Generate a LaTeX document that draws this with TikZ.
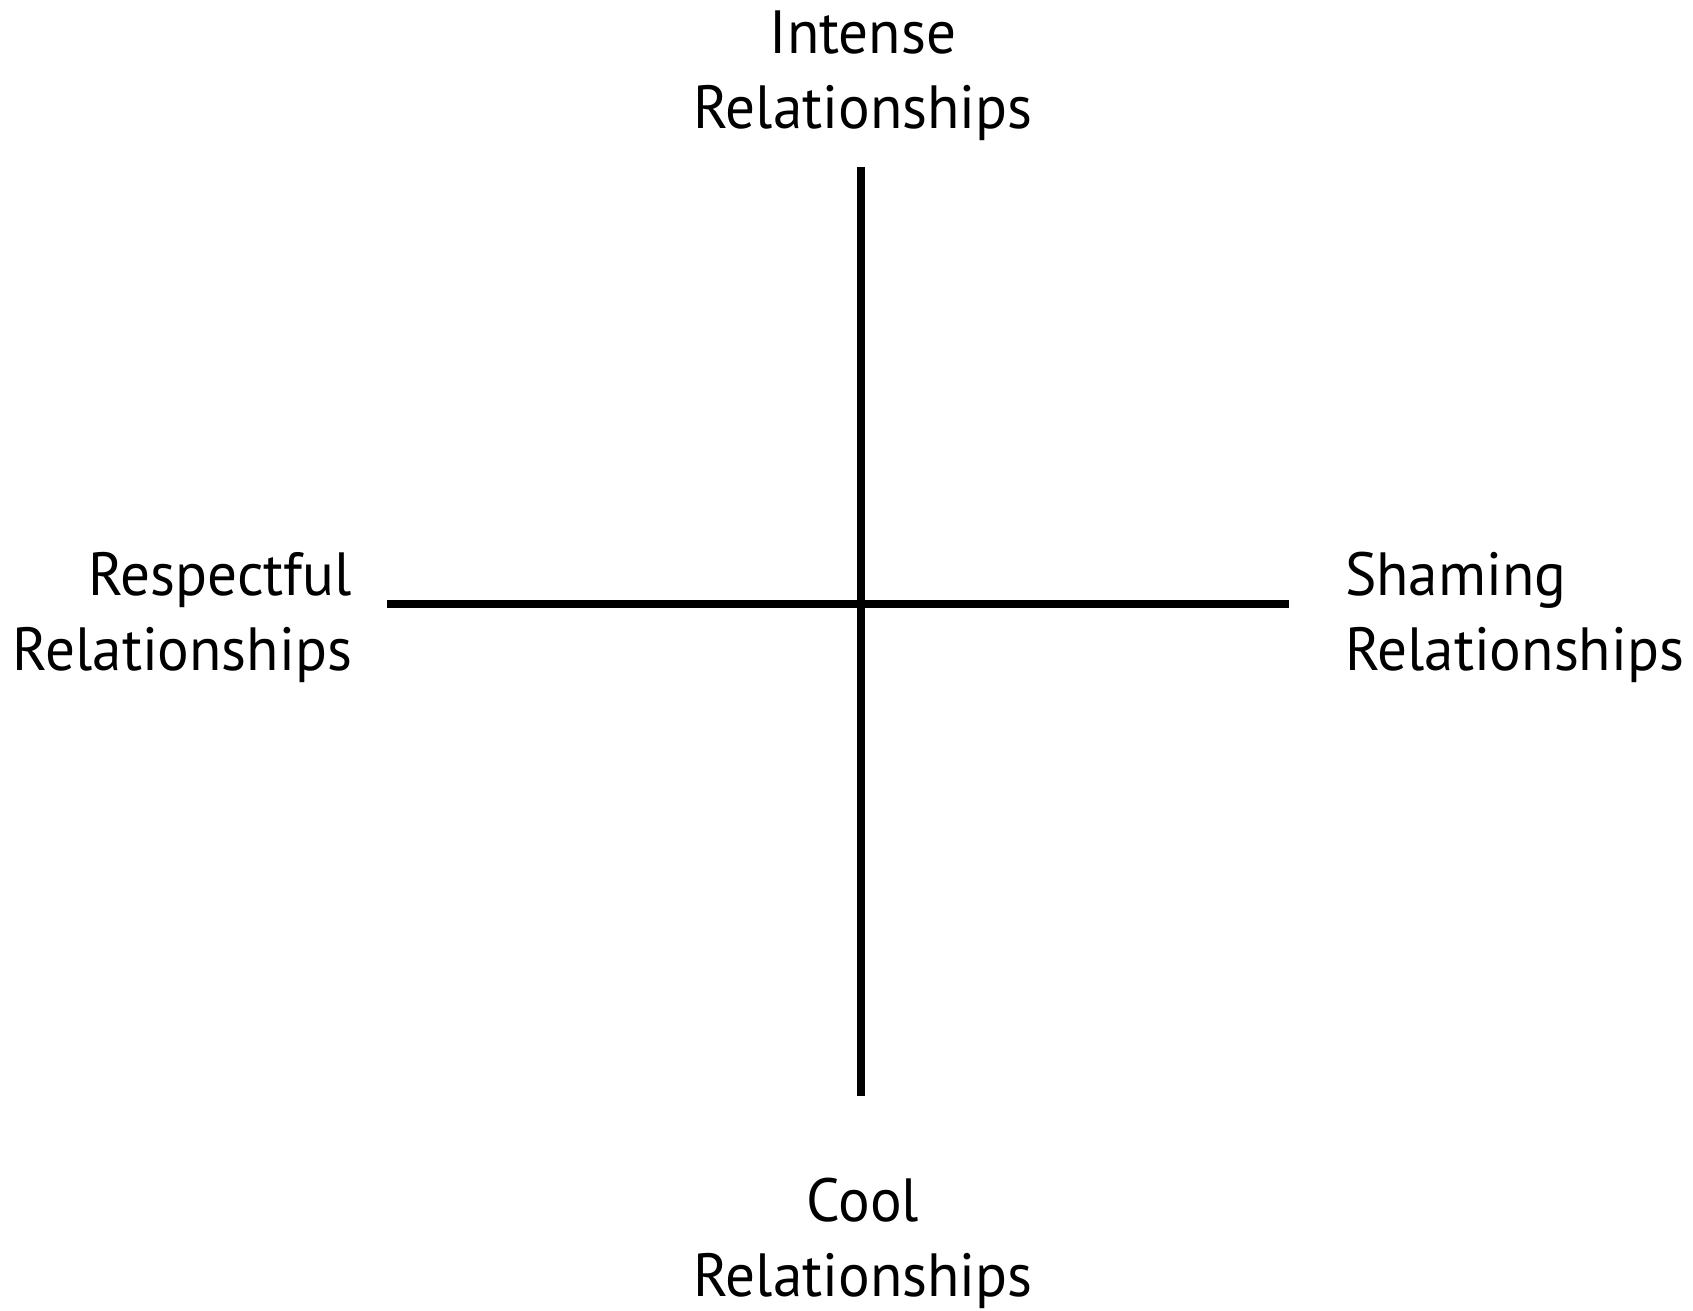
\documentclass[tikz,border=0pt]{standalone}
\usepackage{fontspec}
\setmainfont{PT Sans}[FakeStretch=0.97]
\begin{document}
\begin{tikzpicture}[x=1pt,y=-1pt,
  axis/.style={line width=7.7pt,black},
  lbl/.style={font=\fontsize{61}{75}\selectfont,inner sep=0pt,outer sep=0pt}]
\useasboundingbox[fill=white] (0,0) rectangle (1693,1310);
\coordinate (top) at (861,167);
\coordinate (bot) at (861,1096);
\coordinate (lft) at (387,604);
\coordinate (rgt) at (1289,604);
\draw[axis] (top) -- (bot);
\draw[axis] (lft) -- (rgt);
\node[lbl,anchor=base,align=center] (intense) at (863,128) {Intense\\Relationships};
\node[lbl,anchor=base,align=center] (cool) at (863,1296) {Cool\\Relationships};
\node[lbl,anchor=base east,align=right] (resp) at (352,670) {Respectful\\Relationships};
\node[lbl,anchor=base west,align=left] (sham) at (1345,670) {Shaming\\Relationships};
\end{tikzpicture}
\end{document}
